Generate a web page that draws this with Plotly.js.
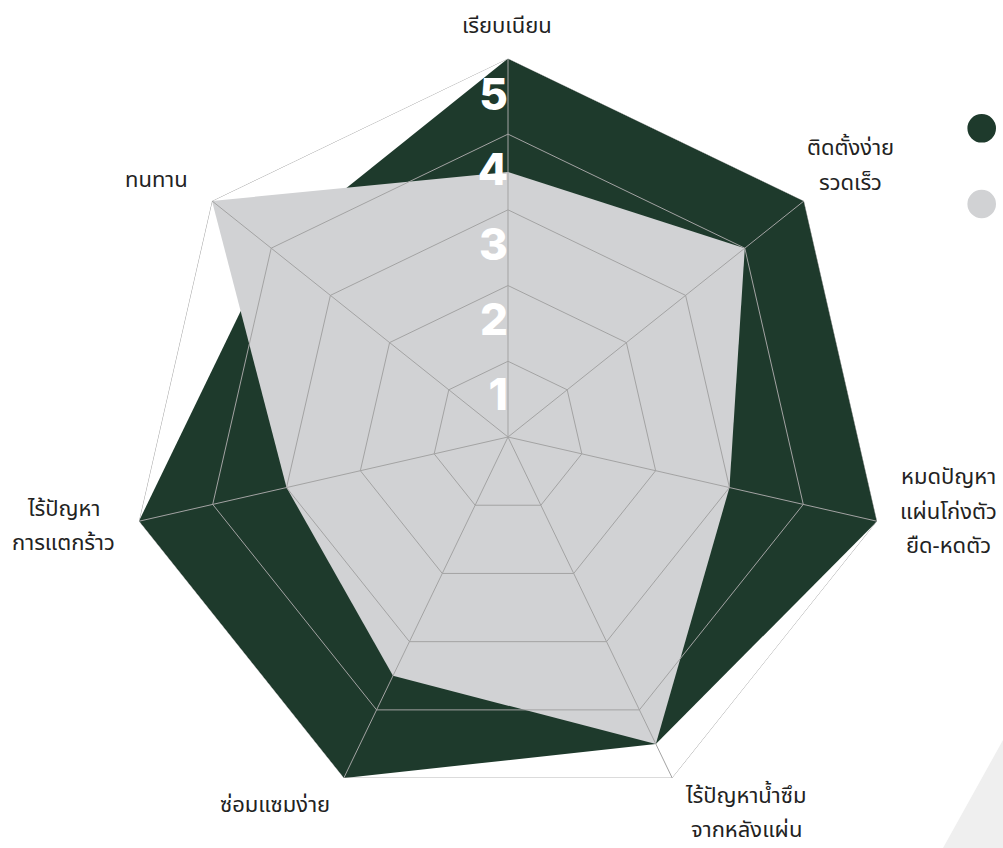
<!DOCTYPE html>
<html>
<head>
<meta charset="utf-8">
<script src="https://cdn.plot.ly/plotly-3.0.1.min.js"></script>
<style>
html,body{margin:0;padding:0;background:#fff;}
#chart{width:1003px;height:848px;}
</style>
</head>
<body>
<div id="chart"></div>
<script>
const categories = [
  "เรียบเนียน",
  "ติดตั้งง่าย<br>รวดเร็ว",
  "หมดปัญหา<br>แผ่นโก่งตัว<br>ยืด-หดตัว",
  "ไร้ปัญหาน้ำซึม<br>จากหลังแผ่น",
  "ซ่อมแซมง่าย",
  "ไร้ปัญหา<br>การแตกร้าว",
  "ทนทาน"
];
const seriesDark = [5, 5, 5, 4.5, 5, 5, 4];
const seriesLight = [3.5, 4, 3, 4.5, 3.5, 3, 5];
const gridLevels = [1, 2, 3, 4, 5];
const scaleLabels = ["1", "2", "3", "4", "5"];
const scaleLabelR = [0.5, 1.49, 2.48, 3.47, 4.46];

const W = 1003, H = 848;
const cx = 508, cy = 437, R = 378.6;

const darkColor = "#1e3a2c";
const lightColor = "#d1d2d4";
const gridColor = "#a3a3a3";

// label block centres in pixels and line spacing (layout only)
const labelPos = [
  [507, 27], [850, 166], [948, 512], [746, 813], [275, 805], [64, 526], [156, 181]
];
const lineGap = 34;

const traces = [
  {
    type: "scatterpolar",
    r: seriesDark,
    theta: categories,
    fill: "toself",
    fillcolor: darkColor,
    mode: "lines",
    line: {color: darkColor, width: 0},
    showlegend: false,
    hoverinfo: "skip"
  },
  {
    type: "scatterpolar",
    r: seriesLight,
    theta: categories,
    fill: "toself",
    fillcolor: lightColor,
    mode: "lines",
    line: {color: lightColor, width: 0},
    showlegend: false,
    hoverinfo: "skip"
  }
];

// concentric grid polygons drawn above the fills
gridLevels.forEach(function (lv) {
  traces.push({
    type: "scatterpolar",
    r: categories.map(() => lv).concat([lv]),
    theta: categories.concat([categories[0]]),
    mode: "lines",
    line: {color: gridColor, width: 1},
    showlegend: false,
    hoverinfo: "skip"
  });
});
// spokes
categories.forEach(function (c) {
  traces.push({
    type: "scatterpolar",
    r: [0, gridLevels[gridLevels.length - 1]],
    theta: [c, c],
    mode: "lines",
    line: {color: gridColor, width: 1},
    showlegend: false,
    hoverinfo: "skip"
  });
});

traces.push({
  type: "scatterpolar",
  r: scaleLabelR,
  theta: scaleLabels.map(() => categories[0]),
  mode: "text",
  text: scaleLabels,
  textposition: "middle left",
  textfont: {family: "Inter, 'Open Sans', sans-serif", size: 44, color: "#ffffff", weight: 800},
  showlegend: false,
  hoverinfo: "skip",
  cliponaxis: false
});

const annotations = [];
categories.forEach(function (c, i) {
  const lines = c.split("<br>");
  const n = lines.length;
  lines.forEach(function (ln, k) {
    const py = labelPos[i][1] + (k - (n - 1) / 2) * lineGap;
    annotations.push({
      xref: "paper", yref: "paper",
      x: labelPos[i][0] / W, y: 1 - py / H,
      xanchor: "center", yanchor: "middle",
      align: "center",
      showarrow: false,
      text: ln,
      font: {size: 22, color: "#222222"}
    });
  });
});

const layout = {
  width: W,
  height: H,
  margin: {l: 0, r: 0, t: 0, b: 0},
  paper_bgcolor: "#ffffff",
  showlegend: false,
  font: {family: "'Noto Sans Thai', 'Noto Sans', 'DejaVu Sans', sans-serif", color: "#222222"},
  polar: {
    domain: {
      x: [(cx - R) / W, (cx + R) / W],
      y: [1 - (cy + R) / H, 1 - (cy - R) / H]
    },
    bgcolor: "rgba(0,0,0,0)",
    gridshape: "linear",
    radialaxis: {
      range: [0, 5],
      showticklabels: false,
      ticks: "",
      showline: false,
      showgrid: false
    },
    angularaxis: {
      direction: "clockwise",
      rotation: 90,
      ticks: "",
      showline: false,
      showgrid: false,
      showticklabels: false
    }
  },
  annotations: annotations,
  shapes: [
    {
      type: "path",
      xref: "paper", yref: "paper",
      path: "M " + (943 / W) + "," + (1 - 848 / H) + " L " + (1003 / W) + "," + (1 - 740 / H) + " L " + (1003 / W) + "," + (1 - 848 / H) + " Z",
      fillcolor: "#efefef",
      line: {width: 0},
      layer: "below"
    },
    {
      type: "circle",
      xref: "paper", yref: "paper",
      x0: (981.7 - 14.3) / W, x1: (981.7 + 14.3) / W,
      y0: 1 - (128.3 + 14.3) / H, y1: 1 - (128.3 - 14.3) / H,
      fillcolor: darkColor,
      line: {width: 0}
    },
    {
      type: "circle",
      xref: "paper", yref: "paper",
      x0: (981.7 - 14.3) / W, x1: (981.7 + 14.3) / W,
      y0: 1 - (204 + 14.3) / H, y1: 1 - (204 - 14.3) / H,
      fillcolor: lightColor,
      line: {width: 0}
    }
  ]
};

Plotly.newPlot("chart", traces, layout, {displayModeBar: false, staticPlot: true});
</script>
</body>
</html>
